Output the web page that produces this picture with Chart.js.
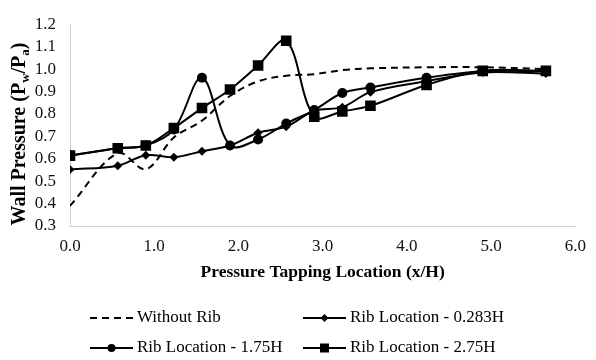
<!DOCTYPE html>
<html>
<head>
<meta charset="utf-8">
<script src="https://cdn.jsdelivr.net/npm/chart.js@4"></script>
<style>
  body { margin: 0; background: #fff; }
  #wrap { width: 596px; height: 360px; position: relative; }
</style>
</head>
<body>
<div id="wrap"><canvas id="wallChart"></canvas></div>
<script>
// tapping positions (x/H)
const tapX = [0, 0.567, 0.9, 1.233, 1.567, 1.9, 2.233, 2.567, 2.9, 3.233, 3.567, 4.233, 4.9, 5.65];

// wall pressure Pw/Pa
const withoutRib = [0.39, 0.625, 0.553, 0.695, 0.77, 0.88, 0.945, 0.97, 0.977, 0.995, 1.003, 1.008, 1.008, 1.0];
const rib0283 = [0.552, 0.569, 0.616, 0.607, 0.633, 0.659, 0.716, 0.743, 0.814, 0.83, 0.897, 0.946, 0.985, 0.98];
const rib175 = [0.614, 0.647, 0.659, 0.73, 0.961, 0.659, 0.686, 0.757, 0.817, 0.893, 0.918, 0.961, 0.99, 0.99];
const rib275 = [0.614, 0.647, 0.659, 0.737, 0.826, 0.909, 1.016, 1.126, 0.788, 0.811, 0.836, 0.929, 0.992, 0.992];

const seriesNames = ['Without Rib', 'Rib Location - 0.283H', 'Rib Location - 1.75H', 'Rib Location - 2.75H'];

const xTicks = [0, 1, 2, 3, 4, 5, 6];
const yTicks = [0.3, 0.4, 0.5, 0.6, 0.7, 0.8, 0.9, 1.0, 1.1, 1.2];

const serif = "'Liberation Serif', 'Times New Roman', serif";

function pts(ys) {
    return tapX.map((x, i) => ({ x: x, y: ys[i] }));
}

// titles + legend drawn by hand (subscripts, two-row legend)
const extras = {
    id: 'extras',
    afterDraw(chart) {
        const ctx = chart.ctx;
        const area = chart.chartArea;
        ctx.save();
        ctx.fillStyle = '#000';

        // x title
        ctx.font = 'bold 17.5px ' + serif;
        ctx.textAlign = 'center';
        ctx.textBaseline = 'middle';
        ctx.fillText('Pressure Tapping Location (x/H)', (area.left + area.right) / 2, 272);

        // y title with subscripts
        const parts = [
            ['Wall Pressure (P', false], ['w', true], ['/P', false], ['a', true], [')', false]
        ];
        const big = 'bold 20px ' + serif, small = 'bold 13px ' + serif;
        let total = 0;
        parts.forEach(p => { ctx.font = p[1] ? small : big; total += ctx.measureText(p[0]).width; });
        ctx.translate(20, 134);
        ctx.rotate(-Math.PI / 2);
        ctx.textAlign = 'left';
        let cx = -total / 2;
        parts.forEach(p => {
            ctx.font = p[1] ? small : big;
            ctx.fillText(p[0], cx, p[1] ? 6 : 0);
            cx += ctx.measureText(p[0]).width;
        });
        ctx.setTransform(1, 0, 0, 1, 0, 0);

        // legend
        const spots = [[90, 318], [303, 318], [90, 348], [303, 348]];
        chart.data.datasets.forEach((ds, i) => {
            const sx = spots[i][0], sy = spots[i][1];
            ctx.strokeStyle = '#000';
            ctx.lineWidth = 2;
            ctx.setLineDash(ds.borderDash || []);
            ctx.beginPath();
            ctx.moveTo(sx, sy);
            ctx.lineTo(sx + 43, sy);
            ctx.stroke();
            ctx.setLineDash([]);
            const mx = sx + 21.5;
            ctx.fillStyle = '#000';
            ctx.beginPath();
            if (ds.pointStyle === 'circle') {
                ctx.arc(mx, sy, 4, 0, Math.PI * 2);
                ctx.fill();
            } else if (ds.pointStyle === 'rect') {
                ctx.fillRect(mx - 4.5, sy - 4.5, 9, 9);
            } else if (ds.pointStyle === 'rectRot') {
                ctx.moveTo(mx, sy - 4);
                ctx.lineTo(mx + 4, sy);
                ctx.lineTo(mx, sy + 4);
                ctx.lineTo(mx - 4, sy);
                ctx.closePath();
                ctx.fill();
            }
            ctx.font = '17px ' + serif;
            ctx.textAlign = 'left';
            ctx.textBaseline = 'middle';
            ctx.fillText(ds.label, sx + 47, sy);
        });
        ctx.restore();
    }
};

const common = {
    borderColor: '#000',
    backgroundColor: '#000',
    pointBackgroundColor: '#000',
    pointBorderColor: '#000',
    borderWidth: 2,
    pointBorderWidth: 0,
    tension: 0.35,
    fill: false
};

new Chart(document.getElementById('wallChart'), {
    type: 'line',
    data: {
        datasets: [
            Object.assign({}, common, {
                label: seriesNames[0], data: pts(withoutRib),
                borderDash: [7, 5], pointRadius: 0, pointStyle: false
            }),
            Object.assign({}, common, {
                label: seriesNames[1], data: pts(rib0283),
                pointStyle: 'rectRot', pointRadius: 4.5
            }),
            Object.assign({}, common, {
                label: seriesNames[2], data: pts(rib175),
                pointStyle: 'circle', pointRadius: 5
            }),
            Object.assign({}, common, {
                label: seriesNames[3], data: pts(rib275),
                pointStyle: 'rect', pointRadius: 7.5
            })
        ]
    },
    options: {
        responsive: true,
        maintainAspectRatio: false,
        animation: false,
        layout: { padding: { left: 0, right: 19, top: 16, bottom: 0 } },
        plugins: {
            legend: { display: false },
            tooltip: { enabled: false }
        },
        scales: {
            x: {
                type: 'linear',
                min: 0, max: 6,
                afterFit: s => { s.height = 134; },
                afterBuildTicks: s => { s.ticks = xTicks.map(v => ({ value: v })); },
                grid: { display: false, drawTicks: false },
                border: { color: '#d0d0d0', width: 1 },
                ticks: {
                    padding: 10,
                    autoSkip: false,
                    maxRotation: 0,
                    color: '#111',
                    font: { family: serif, size: 17 },
                    callback: v => v.toFixed(1)
                }
            },
            y: {
                min: 0.3, max: 1.2,
                afterFit: s => { s.width = 70; },
                afterBuildTicks: s => { s.ticks = yTicks.map(v => ({ value: v })); },
                grid: { display: false, drawTicks: false },
                border: { color: '#d0d0d0', width: 1 },
                ticks: {
                    padding: 14,
                    autoSkip: false,
                    color: '#111',
                    font: { family: serif, size: 17 },
                    callback: v => v.toFixed(1)
                }
            }
        }
    },
    plugins: [extras]
});
</script>
</body>
</html>
